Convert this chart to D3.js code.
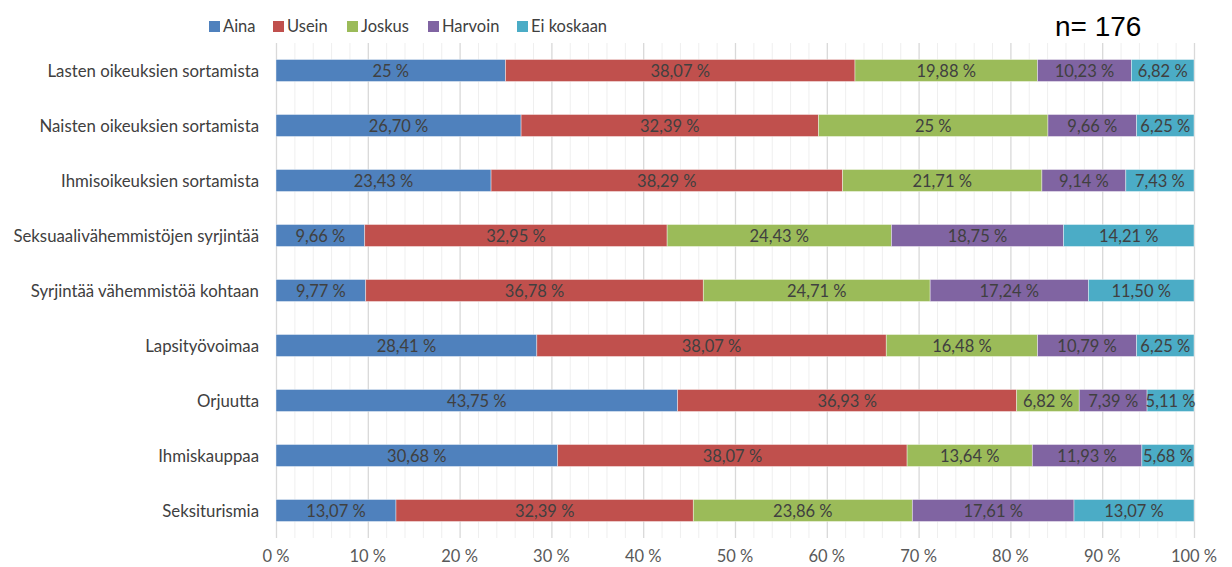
<!DOCTYPE html>
<html>
<head>
<meta charset="utf-8">
<script src="https://d3js.org/d3.v7.min.js"></script>
<style>
body { margin: 0; background: #fff; }
</style>
</head>
<body>
<div id="vis"></div>
<script>
// categories, top to bottom
var categories = ["Lasten oikeuksien sortamista", "Naisten oikeuksien sortamista", "Ihmisoikeuksien sortamista",
    "Seksuaalivähemmistöjen syrjintää", "Syrjintää vähemmistöä kohtaan", "Lapsityövoimaa",
    "Orjuutta", "Ihmiskauppaa", "Seksiturismia"];
var seriesNames = ["Aina", "Usein", "Joskus", "Harvoin", "Ei koskaan"];
var seriesColors = ["#4F81BD", "#C0504D", "#9BBB59", "#8064A2", "#4BACC6"];

// values as printed (comma decimals)
var aina    = ["25", "26,70", "23,43", "9,66", "9,77", "28,41", "43,75", "30,68", "13,07"];
var usein   = ["38,07", "32,39", "38,29", "32,95", "36,78", "38,07", "36,93", "38,07", "32,39"];
var joskus  = ["19,88", "25", "21,71", "24,43", "24,71", "16,48", "6,82", "13,64", "23,86"];
var harvoin = ["10,23", "9,66", "9,14", "18,75", "17,24", "10,79", "7,39", "11,93", "17,61"];
var eiKoskaan = ["6,82", "6,25", "7,43", "14,21", "11,50", "6,25", "5,11", "5,68", "13,07"];
var xTicks = [0, 10, 20, 30, 40, 50, 60, 70, 80, 90, 100];
var sampleLabel = "n= 176";

var series = [aina, usein, joskus, harvoin, eiKoskaan];
var num = function(s){ return +s.replace(",", "."); };
var FONT = "Lato, 'Open Sans', sans-serif";

var W = 1232, H = 567;
var svg = d3.select("#vis").append("svg").attr("width", W).attr("height", H)
    .style("font-family", FONT);

var x = d3.scaleLinear().domain([0, 100]).range([276, 1194]);
var y = d3.scaleBand().domain(categories).range([43, 538]).paddingInner(0.6).paddingOuter(0.3);

// grid, minor every 2 %
svg.append("g").selectAll("line").data(d3.range(0, 101, 2))
    .enter().append("line")
    .attr("x1", d => x(d) + 0.5).attr("x2", d => x(d) + 0.5)
    .attr("y1", 43).attr("y2", 538)
    .attr("stroke", d => d % 10 == 0 ? "#d9d9d9" : "#efefef")
    .attr("stroke-width", d => d % 10 == 0 ? 1.3 : 1);

// stacked bars
var rows = categories.map(function(c, i){
    let acc = 0;
    return series.map(function(s, j){
        let v = num(s[i]);
        let seg = {cat: c, j: j, x0: acc, x1: acc + v, label: s[i] + " %"};
        acc += v;
        return seg;
    });
});
var segs = [].concat.apply([], rows);

svg.append("g").selectAll("rect").data(segs)
    .enter().append("rect")
    .attr("x", d => x(d.x0))
    .attr("width", d => x(d.x1) - x(d.x0))
    .attr("y", d => y(d.cat))
    .attr("height", y.bandwidth())
    .attr("fill", d => seriesColors[d.j])
    .attr("stroke", "#ffffff").attr("stroke-opacity", 0.5).attr("stroke-width", 0.8);

svg.append("g").selectAll("text").data(segs)
    .enter().append("text")
    .attr("x", d => (x(d.x0) + x(d.x1)) / 2)
    .attr("y", d => y(d.cat) + y.bandwidth() / 2 + 6)
    .attr("text-anchor", "middle")
    .attr("font-size", 16.5)
    .attr("fill", "#404040")
    .text(d => d.label);

// category labels
svg.append("g").selectAll("text").data(categories)
    .enter().append("text")
    .attr("x", 259)
    .attr("y", d => y(d) + y.bandwidth() / 2 + 6)
    .attr("text-anchor", "end")
    .attr("font-size", 16.8)
    .attr("fill", "#404040")
    .text(d => d);

// x axis labels
svg.append("g").selectAll("text").data(xTicks)
    .enter().append("text")
    .attr("x", d => x(d))
    .attr("y", 562)
    .attr("text-anchor", "middle")
    .attr("font-size", 16.5)
    .attr("fill", "#595959")
    .text(d => d + " %");

// legend
var legX = [209, 273, 347, 428, 517];
var leg = svg.append("g").selectAll("g").data(seriesNames)
    .enter().append("g")
    .attr("transform", (d, i) => "translate(" + legX[i] + ",21)");
leg.append("rect").attr("width", 11).attr("height", 11).attr("fill", (d, i) => seriesColors[i]);
leg.append("text").attr("x", 14).attr("y", 11).attr("font-size", 16.5).attr("fill", "#404040").text(d => d);

// sample size
svg.append("text").attr("x", 1055).attr("y", 36)
    .style("font-family", "'Liberation Sans', Arial, sans-serif")
    .attr("font-size", 28).attr("fill", "#000").text(sampleLabel);
</script>
</body>
</html>
